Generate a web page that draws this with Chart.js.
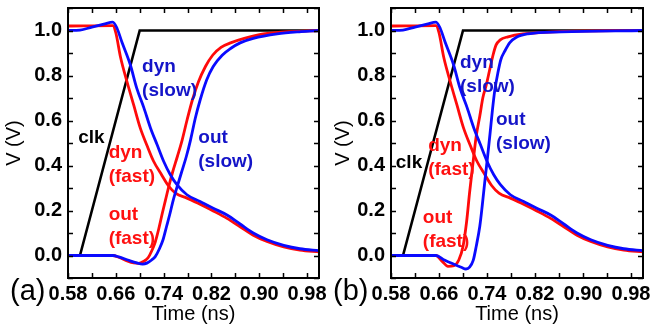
<!DOCTYPE html>
<html>
<head>
<meta charset="utf-8">
<script src="https://cdn.jsdelivr.net/npm/chart.js@4.4.0/dist/chart.umd.min.js"></script>
<style>
  html, body { margin: 0; padding: 0; background: #fff; }
  #wrap { position: relative; width: 658px; height: 326px; overflow: hidden; }
  canvas { position: absolute; top: 0; }
</style>
</head>
<body>
<div id="wrap">
  <canvas id="chartA" width="329" height="326" style="left:0"></canvas>
  <canvas id="chartB" width="329" height="326" style="left:329px"></canvas>
</div>
<script>
// Axis ticks
const xTickVals = [0.58, 0.62, 0.66, 0.70, 0.74, 0.78, 0.82, 0.86, 0.90, 0.94, 0.98];
const xTickText = ['0.58', '', '0.66', '', '0.74', '', '0.82', '', '0.90', '', '0.98'];
const yTickVals = [-0.1, 0, 0.1, 0.2, 0.3, 0.4, 0.5, 0.6, 0.7, 0.8, 0.9, 1.0, 1.1];
const yTickText = ['', '0.0', '', '0.2', '', '0.4', '', '0.6', '', '0.8', '', '1.0', ''];

// Panel (a) waveforms: [time ns, volts]
const aClk = [[0.58, 0], [0.60, 0], [0.70, 1.0], [1.0, 1.0]];
const aDynSlow = [[0.58, 1.0], [0.60, 1.002], [0.62, 1.015], [0.64, 1.028], [0.655, 1.037], [0.662, 1.01], [0.670, 0.95],
  [0.684, 0.85], [0.695, 0.744], [0.707, 0.656], [0.718, 0.567], [0.729, 0.493], [0.740, 0.419], [0.751, 0.36],
  [0.762, 0.316], [0.779, 0.27], [0.801, 0.24], [0.823, 0.21], [0.846, 0.18], [0.868, 0.14], [0.890, 0.10],
  [0.913, 0.07], [0.941, 0.045], [0.968, 0.03], [1.0, 0.022]];
const aDynFast = [[0.58, 1.02], [0.655, 1.022], [0.660, 0.99], [0.668, 0.88], [0.679, 0.77], [0.690, 0.668], [0.701, 0.566],
  [0.712, 0.49], [0.723, 0.42], [0.737, 0.357], [0.748, 0.31], [0.760, 0.277], [0.779, 0.255], [0.801, 0.228],
  [0.823, 0.198], [0.846, 0.165], [0.868, 0.128], [0.890, 0.09], [0.913, 0.062], [0.941, 0.038], [0.968, 0.024], [1.0, 0.016]];
const aOutSlow = [[0.58, 0], [0.655, 0], [0.665, -0.006], [0.68, -0.02], [0.695, -0.033], [0.705, -0.038], [0.712, -0.034],
  [0.72, -0.02], [0.726, -0.005], [0.733, 0.03], [0.739, 0.07], [0.745, 0.13], [0.750, 0.18], [0.756, 0.245],
  [0.762, 0.30], [0.770, 0.37], [0.778, 0.44], [0.785, 0.513], [0.793, 0.61], [0.801, 0.69], [0.812, 0.78],
  [0.823, 0.84], [0.838, 0.89], [0.852, 0.92], [0.868, 0.945], [0.89, 0.965], [0.93, 0.985], [0.97, 0.995], [1.0, 1.0]];
const aOutFast = [[0.58, 0], [0.655, 0], [0.665, -0.008], [0.68, -0.025], [0.69, -0.033], [0.698, -0.035], [0.706, -0.027],
  [0.714, -0.01], [0.72, 0.02], [0.726, 0.06], [0.732, 0.12], [0.738, 0.19], [0.743, 0.245], [0.748, 0.30],
  [0.755, 0.37], [0.763, 0.44], [0.771, 0.513], [0.779, 0.60], [0.788, 0.69], [0.798, 0.77], [0.81, 0.84],
  [0.822, 0.89], [0.836, 0.925], [0.852, 0.945], [0.875, 0.965], [0.907, 0.985], [0.95, 0.995], [1.0, 1.0]];

// Panel (b) waveforms
const bClk = [[0.58, 0], [0.60, 0], [0.70, 1.0], [1.0, 1.0]];
const bDynSlow = [[0.58, 1.0], [0.60, 1.002], [0.62, 1.015], [0.64, 1.028], [0.655, 1.037], [0.662, 1.01], [0.670, 0.95],
  [0.684, 0.85], [0.695, 0.744], [0.707, 0.656], [0.718, 0.567], [0.729, 0.493], [0.740, 0.419], [0.751, 0.36],
  [0.762, 0.316], [0.779, 0.27], [0.801, 0.24], [0.823, 0.21], [0.846, 0.18], [0.868, 0.14], [0.890, 0.10],
  [0.913, 0.07], [0.941, 0.045], [0.968, 0.03], [1.0, 0.022]];
const bDynFast = [[0.58, 1.02], [0.655, 1.022], [0.660, 0.99], [0.668, 0.88], [0.679, 0.77], [0.690, 0.668], [0.701, 0.566],
  [0.712, 0.49], [0.723, 0.42], [0.737, 0.357], [0.748, 0.31], [0.760, 0.277], [0.779, 0.255], [0.801, 0.228],
  [0.823, 0.198], [0.846, 0.165], [0.868, 0.128], [0.890, 0.09], [0.913, 0.062], [0.941, 0.038], [0.968, 0.024], [1.0, 0.016]];
const bOutSlow = [[0.58, 0], [0.655, 0], [0.669, -0.02], [0.686, -0.04], [0.697, -0.052], [0.705, -0.06], [0.711, -0.052],
  [0.717, -0.022], [0.722, 0.04], [0.728, 0.13], [0.732, 0.22], [0.736, 0.32], [0.741, 0.44], [0.745, 0.54],
  [0.749, 0.645], [0.753, 0.735], [0.758, 0.81], [0.763, 0.87], [0.770, 0.91], [0.778, 0.946], [0.789, 0.97],
  [0.808, 0.985], [0.864, 0.994], [1.0, 1.0]];
const bOutFast = [[0.58, 0], [0.655, 0], [0.665, -0.025], [0.675, -0.048], [0.685, -0.045], [0.693, -0.02], [0.70, 0.04],
  [0.706, 0.15], [0.711, 0.28], [0.717, 0.42], [0.722, 0.53], [0.728, 0.62], [0.733, 0.70], [0.739, 0.76],
  [0.744, 0.82], [0.75, 0.89], [0.755, 0.935], [0.762, 0.958], [0.775, 0.972], [0.80, 0.985], [0.86, 0.995], [1.0, 1.0]];

const BLUE = '#0a0aff', RED = '#ff0a0a', BLUE_TXT = '#1414c8', RED_TXT = '#ff1010';

// curve labels, anchored in data coords (left edge, first baseline)
const aNotes = [
  { lines: ['dyn', '(slow)'], x: 0.704, y: 0.816, color: BLUE_TXT },
  { lines: ['clk'], x: 0.597, y: 0.50, color: '#000' },
  { lines: ['out', '(slow)'], x: 0.798, y: 0.50, color: BLUE_TXT },
  { lines: ['dyn', '(fast)'], x: 0.648, y: 0.433, color: RED_TXT },
  { lines: ['out', '(fast)'], x: 0.648, y: 0.158, color: RED_TXT }
];
const bNotes = [
  { lines: ['dyn', '(slow)'], x: 0.695, y: 0.833, color: BLUE_TXT },
  { lines: ['out', '(slow)'], x: 0.755, y: 0.58, color: BLUE_TXT },
  { lines: ['clk'], x: 0.588, y: 0.389, color: '#000' },
  { lines: ['dyn', '(fast)'], x: 0.642, y: 0.464, color: RED_TXT },
  { lines: ['out', '(fast)'], x: 0.633, y: 0.144, color: RED_TXT }
];

const FONT = '"Liberation Sans", Arial, sans-serif';
Chart.defaults.font.family = FONT;
Chart.defaults.color = '#000';

// frame, inward ticks, curve labels and panel tag
const panelDeco = {
  id: 'panelDeco',
  afterDraw(chart, args, opts) {
    const { ctx, chartArea: a, scales: { x, y } } = chart;
    ctx.save();
    ctx.strokeStyle = '#000';
    ctx.lineWidth = 2;
    ctx.strokeRect(a.left, a.top, a.right - a.left, a.bottom - a.top);
    ctx.lineWidth = 1.5;
    ctx.beginPath();
    x.ticks.forEach(t => {
      const px = Math.round(x.getPixelForValue(t.value)) + 0.5;
      ctx.moveTo(px, a.bottom); ctx.lineTo(px, a.bottom - 5);
      ctx.moveTo(px, a.top); ctx.lineTo(px, a.top + 5);
    });
    y.ticks.forEach(t => {
      const py = Math.round(y.getPixelForValue(t.value)) + 0.5;
      ctx.moveTo(a.left, py); ctx.lineTo(a.left + 5, py);
      ctx.moveTo(a.right, py); ctx.lineTo(a.right - 5, py);
    });
    ctx.stroke();

    ctx.font = 'bold 19px ' + FONT;
    ctx.textAlign = 'left';
    ctx.textBaseline = 'alphabetic';
    opts.notes.forEach(n => {
      ctx.fillStyle = n.color;
      n.lines.forEach((s, i) => ctx.fillText(s, x.getPixelForValue(n.x), y.getPixelForValue(n.y) + i * 24));
    });

    ctx.font = '29px ' + FONT;
    ctx.fillStyle = '#000';
    ctx.fillText(opts.tag, a.left - 58, a.bottom + 22);
    ctx.restore();
  }
};

function makePanel(id, series, notes, tag, yWidth, padRight) {
  const datasets = series.map(s => ({
    data: s.pts.map(p => ({ x: p[0], y: p[1] })),
    borderColor: s.color,
    borderWidth: s.width,
    pointRadius: 0,
    fill: false,
    tension: 0,
    cubicInterpolationMode: s.smooth ? 'monotone' : 'default'
  }));
  return new Chart(document.getElementById(id), {
    type: 'line',
    data: { datasets },
    options: {
      responsive: false, animation: false, devicePixelRatio: 1,
      layout: { padding: { top: 8, right: padRight, left: 0, bottom: 0 } },
      plugins: { legend: { display: false }, tooltip: { enabled: false }, panelDeco: { notes, tag } },
      scales: {
        x: {
          type: 'linear', min: 0.58, max: 1.0,
          grid: { display: false, drawTicks: false }, border: { display: false },
          afterBuildTicks: sc => { sc.ticks = xTickVals.map(v => ({ value: v })); },
          afterFit: sc => { sc.height = 48; sc.paddingLeft = 0; sc.paddingRight = 0; },
          ticks: { autoSkip: false, maxRotation: 0, minRotation: 0, padding: 4,
            font: { size: 20, weight: 'bold' }, callback: (v, i) => xTickText[i] },
          title: { display: true, text: 'Time (ns)', font: { size: 20 }, padding: { top: 0, bottom: 0 } }
        },
        y: {
          type: 'linear', min: -0.1, max: 1.1,
          grid: { display: false, drawTicks: false }, border: { display: false },
          afterBuildTicks: sc => { sc.ticks = yTickVals.map(v => ({ value: v })); },
          afterFit: sc => { sc.width = yWidth; sc.paddingTop = 0; sc.paddingBottom = 0; },
          ticks: { autoSkip: false, padding: 6, font: { size: 20, weight: 'bold' }, callback: (v, i) => yTickText[i] },
          title: { display: true, text: 'V (V)', font: { size: 20 }, padding: { top: 2, bottom: 0 } }
        }
      }
    },
    plugins: [panelDeco]
  });
}

makePanel('chartA', [
  { pts: aDynSlow, color: BLUE, width: 2.8, smooth: true },
  { pts: aOutSlow, color: BLUE, width: 2.8, smooth: true },
  { pts: aDynFast, color: RED, width: 2.8, smooth: true },
  { pts: aOutFast, color: RED, width: 2.8, smooth: true },
  { pts: aClk, color: '#000', width: 2.6, smooth: false }
], aNotes, '(a)', 68, 10);

makePanel('chartB', [
  { pts: bDynSlow, color: BLUE, width: 2.8, smooth: true },
  { pts: bOutSlow, color: BLUE, width: 2.8, smooth: true },
  { pts: bDynFast, color: RED, width: 2.8, smooth: true },
  { pts: bOutFast, color: RED, width: 2.8, smooth: true },
  { pts: bClk, color: '#000', width: 2.6, smooth: false }
], bNotes, '(b)', 62, 15);
</script>
</body>
</html>
